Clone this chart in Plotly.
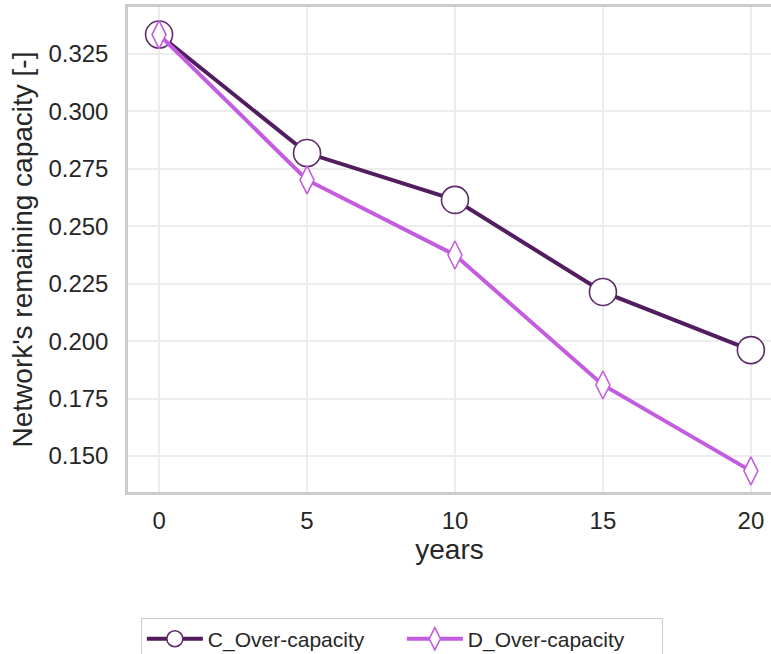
import plotly.graph_objects as go

years = [0, 5, 10, 15, 20]
c_over = [0.3335, 0.2819, 0.2615, 0.2214, 0.1961]
d_over = [0.3335, 0.2702, 0.2375, 0.1809, 0.1435]
series_names = ["C_Over-capacity", "D_Over-capacity"]
y_ticks = [0.150, 0.175, 0.200, 0.225, 0.250, 0.275, 0.300, 0.325]
x_ticks = [0, 5, 10, 15, 20]

C_COLOR = "#521d5e"
D_COLOR = "#c35de0"

fig = go.Figure()
fig.add_trace(go.Scatter(
    x=years, y=c_over, name=series_names[0], mode="lines+markers",
    line=dict(color=C_COLOR, width=4),
    marker=dict(symbol="circle", size=27, color="white",
                line=dict(color="#5d2c68", width=1.6)),
))
fig.add_trace(go.Scatter(
    x=years, y=d_over, name=series_names[1], mode="lines+markers",
    line=dict(color=D_COLOR, width=4),
    marker=dict(symbol="diamond-tall", size=20, color="white",
                line=dict(color=D_COLOR, width=1.6)),
))

font_family = "Liberation Sans, Arial, sans-serif"
fig.update_layout(
    width=771, height=654,
    paper_bgcolor="white", plot_bgcolor="white",
    margin=dict(l=128, r=0, t=7, b=162, autoexpand=False),
    font=dict(family=font_family, size=24, color="#262626"),
    showlegend=True,
    legend=dict(
        orientation="h", x=0.02, y=-0.259, xanchor="left", yanchor="top",
        bordercolor="#cccccc", borderwidth=1, bgcolor="white",
        font=dict(size=21, color="#262626"),
        itemwidth=56, tracegroupgap=0,
        entrywidth=189, entrywidthmode="pixels",
    ),
    xaxis=dict(
        range=[-1.05, 20.68], tickvals=x_ticks,
        showgrid=True, gridcolor="#ececec", gridwidth=1.5,
        showline=True, linecolor="#cccccc", linewidth=2.5, mirror=True,
        zeroline=False, ticks="", tickfont=dict(size=24),
        ticklabelstandoff=5,
        title=dict(text="years", font=dict(size=28), standoff=4),
    ),
    yaxis=dict(
        range=[0.1343, 0.3455], tickvals=y_ticks, tickformat=".3f",
        showgrid=True, gridcolor="#ececec", gridwidth=1.5,
        showline=True, linecolor="#cccccc", linewidth=2.5,
        zeroline=False, ticks="", tickfont=dict(size=24),
        ticklabelstandoff=12,
        title=dict(text="Network's remaining capacity [-]", font=dict(size=28), standoff=8),
    ),
)

fig.write_html(
    "out.html",
    config={"displayModeBar": False},
    post_script="document.body.style.margin='0';document.body.style.overflow='hidden';",
)
